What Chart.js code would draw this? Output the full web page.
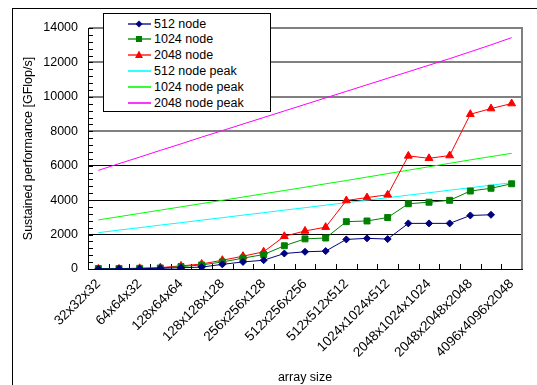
<!DOCTYPE html>
<html>
<head>
<meta charset="utf-8">
<script src="https://cdn.jsdelivr.net/npm/chart.js@4.4.1/dist/chart.umd.min.js"></script>
<style>
  html, body { margin: 0; padding: 0; background: #fff; }
  #wrap { position: relative; width: 537px; height: 385px; overflow: hidden; }
  #perfChart { position: absolute; left: 0; top: 0; }
  #legend {
    position: absolute; left: 103px; top: 13px; width: 166px; height: 97px;
    border: 1px solid #000; background: #fff;
    font-family: 'Liberation Sans', Arial, sans-serif; font-size: 12.5px; color: #000;
  }
</style>
</head>
<body>
<div id="wrap">
  <canvas id="perfChart" width="537" height="385"></canvas>
  <div id="legend"></div>
</div>
<script>
// array sizes (only every other one is labelled on the axis)
const arraySizes = ['32x32x32', '64x32x32', '64x64x32', '64x64x64', '128x64x64', '128x128x64',
  '128x128x128', '256x128x128', '256x256x128', '256x256x256', '512x256x256', '512x512x256',
  '512x512x512', '1024x512x512', '1024x1024x512', '1024x1024x1024', '2048x1024x1024',
  '2048x2048x1024', '2048x2048x2048', '4096x2048x2048', '4096x4096x2048'];

// sustained performance [GFlop/s]
const node512 = [5, 10, 20, 40, 70, 110, 270, 410, 510, 900, 1000, 1040, 1720, 1780, 1740,
  2650, 2650, 2650, 3110, 3150, null];
const node1024 = [30, 30, 40, 60, 140, 235, 410, 630, 840, 1350, 1750, 1800, 2750, 2790, 2990,
  3790, 3880, 3990, 4530, 4690, 4950];
const node2048 = [5, 5, 40, 80, 180, 290, 510, 745, 1000, 1900, 2210, 2430, 3980, 4150, 4310,
  6570, 6430, 6590, 8990, 9320, 9610];

// peak performance lines
const peak512 = [2110, 2260, 2400, 2550, 2690, 2840, 2980, 3130, 3270, 3420, 3560, 3710, 3850,
  4000, 4140, 4290, 4430, 4580, 4720, 4870, 5010];
const peak1024 = [2850, 3040, 3230, 3420, 3610, 3800, 3990, 4180, 4370, 4560, 4750, 4950, 5140,
  5340, 5540, 5740, 5940, 6140, 6340, 6530, 6720];
const peak2048 = [5730, 6120, 6500, 6890, 7270, 7660, 8040, 8420, 8800, 9180, 9560, 9940, 10320,
  10700, 11080, 11460, 11840, 12220, 12620, 13020, 13440];

const yTicks = [0, 2000, 4000, 6000, 8000, 10000, 12000, 14000];

const FONT = { family: "'Liberation Sans', Arial, sans-serif", size: 12.5 };
const XFONT = { family: "'Liberation Sans', Arial, sans-serif", size: 13.5 };

const series = [
  { label: '512 node', data: node512, color: '#000080', marker: 'rectRot', r: 3.5 },
  { label: '1024 node', data: node1024, color: '#008000', marker: 'rect', r: 4.2 },
  { label: '2048 node', data: node2048, color: '#ff0000', marker: 'triangle', r: 4.5 },
  { label: '512 node peak', data: peak512, color: '#00ffff', marker: false },
  { label: '1024 node peak', data: peak1024, color: '#00ff00', marker: false },
  { label: '2048 node peak', data: peak2048, color: '#ff00ff', marker: false }
];

// frame, plot border and the small inside tick marks
const decorations = {
  id: 'decorations',
  beforeDraw(chart) {
    const c = chart.ctx;
    c.save();
    c.fillStyle = '#fff';
    c.fillRect(0, 0, chart.width, chart.height);
    c.strokeStyle = '#000';
    c.lineWidth = 1;
    c.strokeRect(12.5, 8.5, 700, 700);
    c.restore();
  },
  beforeDatasetsDraw(chart) {
    const c = chart.ctx;
    const { left, right, top, bottom } = chart.chartArea;
    const x = chart.scales.x, y = chart.scales.y;
    c.save();
    c.strokeStyle = '#000';
    c.lineWidth = 1;
    c.beginPath();
    for (let v = 0; v <= 14000; v += 400) {
      const py = Math.round(y.getPixelForValue(v)) + 0.5;
      c.moveTo(left, py);
      c.lineTo(left + 5, py);
    }
    for (let i = 0; i <= arraySizes.length; i++) {
      const px = Math.round(x.getPixelForValue(i - 0.5)) + 0.5;
      c.moveTo(px, bottom);
      c.lineTo(px, bottom - 5);
    }
    c.stroke();
    c.strokeStyle = '#808080';
    c.lineWidth = 2;
    c.beginPath();
    c.moveTo(right, top - 1);
    c.lineTo(right, bottom);
    c.stroke();
    c.restore();
  }
};

const ctx = document.getElementById('perfChart').getContext('2d');
const perfChart = new Chart(ctx, {
  type: 'line',
  data: {
    labels: arraySizes,
    datasets: series.map(s => ({
      label: s.label,
      data: s.data,
      borderColor: s.color,
      backgroundColor: s.color,
      borderWidth: 1,
      pointStyle: s.marker || 'circle',
      pointRadius: s.marker ? s.r : 0,
      pointHoverRadius: s.marker ? s.r : 0,
      pointBorderWidth: 1,
      tension: 0,
      spanGaps: false
    }))
  },
  options: {
    responsive: false,
    animation: false,
    layout: { padding: { left: 14, top: 28, right: 15, bottom: 0 } },
    plugins: { legend: { display: false }, tooltip: { enabled: false } },
    scales: {
      x: {
        offset: true,
        grid: { display: false, drawTicks: false },
        border: { display: true, color: '#000', width: 1 },
        ticks: {
          autoSkip: false, minRotation: 45, maxRotation: 45, padding: 7,
          color: '#000', font: XFONT,
          callback: (v, i) => (i % 2 === 0 ? arraySizes[i] : '')
        },
        title: { display: true, text: 'array size', color: '#000', font: FONT, padding: { top: 3, bottom: 0 } },
        afterFit: s => { s.height = 116; }
      },
      y: {
        min: 0, max: 14000,
        afterBuildTicks: s => { s.ticks = yTicks.map(v => ({ value: v })); },
        grid: {
          drawTicks: false,
          color: c => (c.tick.value >= 8000 ? '#808080' : '#000'),
          lineWidth: c => (c.tick.value >= 8000 ? 2 : 1)
        },
        border: { display: true, color: '#000', width: 1 },
        ticks: { color: '#000', font: FONT, padding: 10, callback: v => String(v) },
        title: { display: true, text: 'Sustained performance [GFlop/s]', color: '#000', font: FONT, padding: { top: 7, bottom: 4 } },
        afterFit: s => { s.width = 74; }
      }
    }
  },
  plugins: [decorations]
});

// legend box drawn as HTML inside the plot
const legendDiv = document.getElementById('legend');
series.forEach((s, i) => {
  const top = 1.5 + i * 15.8;
  let mark = '';
  if (s.marker === 'rectRot') mark = `<polygon points="11,1.5 14.5,5 11,8.5 7.5,5" fill="${s.color}"/>`;
  if (s.marker === 'rect') mark = `<rect x="8" y="2" width="6" height="6" fill="${s.color}"/>`;
  if (s.marker === 'triangle') mark = `<polygon points="11,0.5 15,8 7,8" fill="${s.color}"/>`;
  const svg = document.createElementNS('http://www.w3.org/2000/svg', 'svg');
  svg.setAttribute('width', '23');
  svg.setAttribute('height', '10');
  svg.style.cssText = `position:absolute;left:24px;top:${top + 3}px;`;
  svg.innerHTML = `<line x1="0" y1="5" x2="23" y2="5" stroke="${s.color}" stroke-width="${s.marker ? 1.3 : 1.6}"/>${mark}`;
  const txt = document.createElement('span');
  txt.textContent = s.label;
  txt.style.cssText = `position:absolute;left:50px;top:${top}px;line-height:16px;white-space:nowrap;`;
  legendDiv.appendChild(svg);
  legendDiv.appendChild(txt);
});
</script>
</body>
</html>
